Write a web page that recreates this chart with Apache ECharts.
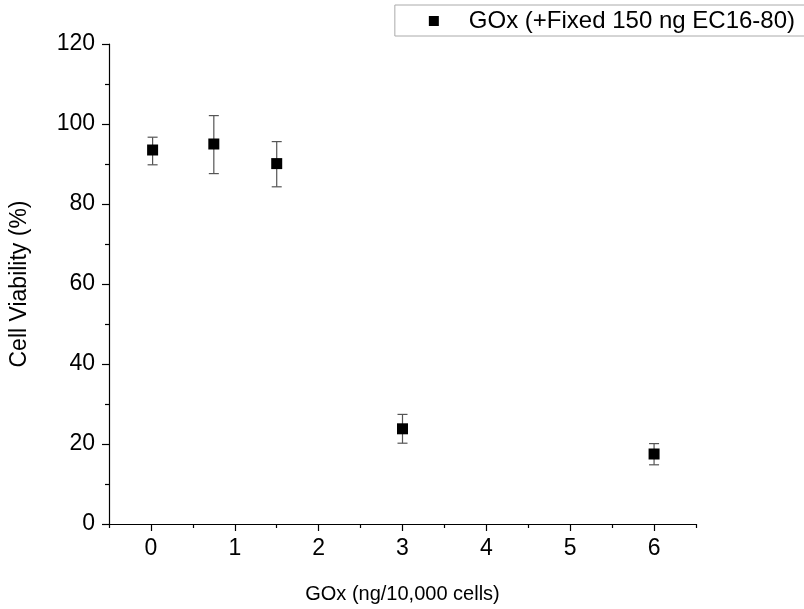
<!DOCTYPE html>
<html>
<head>
<meta charset="utf-8">
<script src="https://cdn.jsdelivr.net/npm/echarts@6/dist/echarts.min.js"></script>
<style>html,body{margin:0;padding:0;background:#fff;}#c{width:804px;height:609px;}</style>
</head>
<body>
<div id="c"></div>
<script>
const seriesName = 'GOx (+Fixed 150 ng EC16-80)';
const xValues = [0.02, 0.75, 1.5, 3, 6];
const yValues = [93.5, 95.0, 90.1, 23.8, 17.5];
const errLow = [89.8, 87.6, 84.3, 20.2, 14.8];
const errHigh = [96.7, 102.1, 95.6, 27.4, 20.1];
const xTickLabels = [0, 1, 2, 3, 4, 5, 6];
const xMinorTicks = [-0.5, 0.5, 1.5, 2.5, 3.5, 4.5, 5.5, 6.5];
const yTickLabels = [0, 20, 40, 60, 80, 100, 120];

const font = 'Liberation Sans, Arial, sans-serif';
const chart = echarts.init(document.getElementById('c'), null, {renderer: 'canvas'});

const errData = xValues.map((x, i) => [x, errLow[i], errHigh[i]]);
const ptData = xValues.map((x, i) => [x, yValues[i]]);

chart.setOption({
  animation: false,
  backgroundColor: '#fff',
  grid: {left: 107, right: 108, top: 44, bottom: 84, containLabel: false},
  legend: {
    data: [{name: seriesName, icon: 'rect'}],
    right: -6, top: 5,
    borderColor: '#aaa', borderWidth: 1,
    padding: [4, 15, 3, 34],
    itemWidth: 10, itemHeight: 10,
    textStyle: {fontFamily: font, fontSize: 24, color: '#000', padding: [0, 0, 0, 25]}
  },
  xAxis: [{
    type: 'value', min: -0.5, max: 6.5,
    name: 'GOx (ng/10,000 cells)', nameLocation: 'middle', nameGap: 60,
    nameTextStyle: {fontFamily: font, fontSize: 20, color: '#000'},
    axisLine: {show: true, onZero: false, lineStyle: {color: '#000', width: 1.2}},
    axisTick: {show: true, inside: false, length: 7, customValues: xTickLabels, lineStyle: {color: '#000', width: 1.2}},
    axisLabel: {show: true, customValues: xTickLabels, margin: 13, fontFamily: font, fontSize: 23, color: '#000'},
    splitLine: {show: false}
  }, {
    type: 'value', min: -0.5, max: 6.5, position: 'bottom', gridIndex: 0,
    axisLine: {show: false, onZero: false},
    axisTick: {show: true, inside: false, length: 4, customValues: xMinorTicks, lineStyle: {color: '#000', width: 1.2}},
    axisLabel: {show: false},
    splitLine: {show: false}
  }],
  yAxis: {
    type: 'value', min: 0, max: 120, interval: 20,
    name: 'Cell Viability (%)', nameLocation: 'middle', nameGap: 78,
    nameTextStyle: {fontFamily: font, fontSize: 23, color: '#000'},
    axisLine: {show: true, onZero: false, lineStyle: {color: '#000', width: 1.2}},
    axisTick: {show: true, inside: false, length: 7, lineStyle: {color: '#000', width: 1.2}},
    minorTick: {show: true, splitNumber: 2, length: 4, lineStyle: {color: '#000', width: 1.2}},
    axisLabel: {margin: 14, fontFamily: font, fontSize: 23, color: '#000'},
    splitLine: {show: false}, minorSplitLine: {show: false}
  },
  series: [{
    type: 'custom',
    name: 'err',
    xAxisIndex: 0,
    data: errData,
    encode: {x: 0, y: [1, 2]},
    z: 1,
    renderItem: function (params, api) {
      const x = api.value(0);
      const lo = api.coord([x, api.value(1)]);
      const hi = api.coord([x, api.value(2)]);
      const cap = 5;
      const style = {stroke: '#555', lineWidth: 1.2};
      return {
        type: 'group',
        children: [
          {type: 'line', shape: {x1: lo[0], y1: lo[1], x2: hi[0], y2: hi[1]}, style: style},
          {type: 'line', shape: {x1: lo[0] - cap, y1: lo[1], x2: lo[0] + cap, y2: lo[1]}, style: style},
          {type: 'line', shape: {x1: hi[0] - cap, y1: hi[1], x2: hi[0] + cap, y2: hi[1]}, style: style}
        ]
      };
    }
  }, {
    type: 'scatter',
    name: seriesName,
    xAxisIndex: 0,
    data: ptData,
    symbol: 'rect',
    symbolSize: 11,
    itemStyle: {color: '#000', opacity: 1},
    z: 3
  }]
});
</script>
</body>
</html>
